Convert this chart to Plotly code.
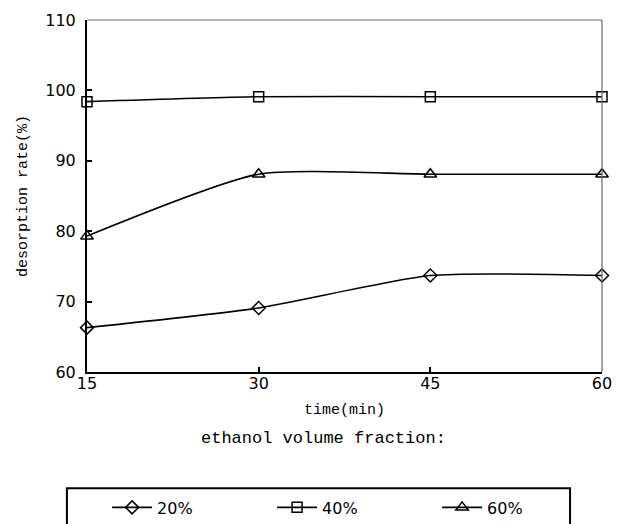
import plotly.graph_objects as go

time_min = [15, 30, 45, 60]
series_names = ["20%", "40%", "60%"]
rate_20 = [66.3, 69.1, 73.7, 73.7]
rate_40 = [98.4, 99.1, 99.1, 99.1]
rate_60 = [79.3, 88.1, 88.1, 88.1]
x_ticks = [15, 30, 45, 60]
y_ticks = [60, 70, 80, 90, 100, 110]

symbols = ["diamond-open", "square-open", "triangle-up-open"]
values = [rate_20, rate_40, rate_60]
sizes = [10, 10, 11]

FONT = "Liberation Mono"
TICKFONT = "DejaVu Sans"

fig = go.Figure()
for name, vals, sym, sz in zip(series_names, values, symbols, sizes):
    fig.add_trace(go.Scatter(
        x=time_min, y=vals, name=name, mode="lines+markers",
        line=dict(color="black", width=1.6, shape="spline", smoothing=0.6),
        marker=dict(symbol=sym, size=sz, color="black",
                    line=dict(color="black", width=1.5)),
        cliponaxis=False,
    ))

fig.update_layout(
    width=630, height=524,
    margin=dict(l=87, r=28, t=20, b=152, autoexpand=False),
    plot_bgcolor="white", paper_bgcolor="white",
    font=dict(family=FONT, size=15, color="black"),
    showlegend=True,
    legend=dict(orientation="h", xref="container", yref="container",
                x=0.17, xanchor="left", y=0.064, yanchor="top",
                font=dict(family=TICKFONT, size=16, color="black"),
                entrywidth=110, entrywidthmode="pixels",
                bgcolor="rgba(0,0,0,0)", borderwidth=0, itemwidth=40),
    xaxis=dict(range=[15, 60], tickvals=x_ticks, ticktext=[str(v) for v in x_ticks],
               showline=True, linecolor="black", linewidth=2, showgrid=False,
               zeroline=False, ticks="inside", ticklen=5, tickcolor="black", tickwidth=2,
               tickfont=dict(family=TICKFONT, size=16), ticklabelstandoff=-4,
               title=dict(text="time(min)", font=dict(family=FONT, size=15), standoff=11)),
    yaxis=dict(range=[60, 110], tickvals=y_ticks, ticktext=[str(v) for v in y_ticks],
               showline=True, linecolor="black", linewidth=2, showgrid=False,
               zeroline=False, ticks="inside", ticklen=5, tickcolor="black", tickwidth=2,
               tickfont=dict(family=TICKFONT, size=16), ticklabelstandoff=6,
               title=dict(text="desorption rate(%)", font=dict(family=FONT, size=15), standoff=14)),
    shapes=[
        dict(type="line", xref="paper", yref="paper", x0=0, x1=1, y0=1, y1=1,
             line=dict(color="#666666", width=1.2)),
        dict(type="line", xref="paper", yref="paper", x0=1, x1=1, y0=0, y1=1,
             line=dict(color="#666666", width=1.2)),
        dict(type="rect", xref="paper", yref="paper", x0=-0.039, x1=0.938,
             y0=-0.47, y1=-0.33, line=dict(color="black", width=2)),
    ],
    annotations=[
        dict(text="ethanol volume fraction:", xref="paper", yref="paper",
             x=0.46, y=-0.19, xanchor="center", yanchor="middle", showarrow=False,
             font=dict(family=FONT, size=17, color="black")),
    ],
)

fig.write_html("out.html")
